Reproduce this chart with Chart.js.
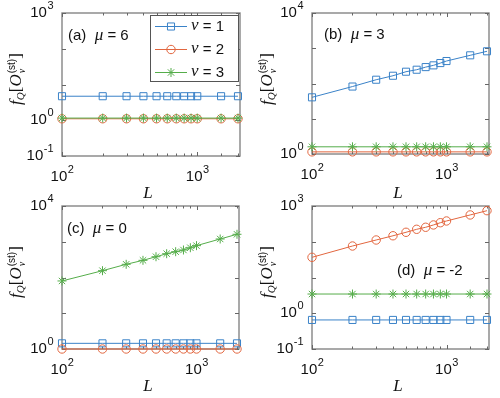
<!DOCTYPE html>
<html>
<head>
<meta charset="utf-8">
<script src="https://cdn.jsdelivr.net/npm/chart.js@4.4.1/dist/chart.umd.min.js"></script>
<style>
  body { margin: 0; background: #fff; }
  #wrap { position: relative; width: 500px; height: 398px; overflow: hidden; font-family: 'Liberation Sans', Arial, sans-serif; color: #111; }
  canvas { position: absolute; }
  .ylab { position: absolute; transform: translate(-50%, -50%) rotate(-90deg); font-family: 'Liberation Serif', serif; font-size: 17px; white-space: nowrap; }
  .ylab sub { font-size: 11px; vertical-align: -3px; }
  .ss { display: inline-flex; flex-direction: column; font-size: 10px; line-height: 10px; vertical-align: 6px; margin-left: 1px; }
  .ss .st { font-family: 'Liberation Sans', Arial, sans-serif; font-style: normal; }
  .xlab { position: absolute; transform: translate(-50%, -50%); font-family: 'Liberation Serif', serif; font-style: italic; font-size: 17px; }
  .plab { position: absolute; transform: translateY(-50%); font-size: 15px; white-space: nowrap; }
  .plab i { font-family: 'Liberation Serif', serif; font-size: 17px; }
</style>
</head>
<body>
<div id="wrap">
  <canvas id="pa" width="250" height="199" style="left:0;top:0"></canvas>
  <canvas id="pb" width="250" height="199" style="left:250px;top:0"></canvas>
  <canvas id="pc" width="250" height="199" style="left:0;top:193px"></canvas>
  <canvas id="pd" width="250" height="199" style="left:250px;top:193px"></canvas>

  <div class="ylab" style="left:16px;top:79px"><i>f</i><sub><i>Q</i></sub>[<i>O</i><span class="ss"><span class="st">(st)</span><i>ν</i></span>]</div>
  <div class="ylab" style="left:267px;top:79px"><i>f</i><sub><i>Q</i></sub>[<i>O</i><span class="ss"><span class="st">(st)</span><i>ν</i></span>]</div>
  <div class="ylab" style="left:16px;top:272px"><i>f</i><sub><i>Q</i></sub>[<i>O</i><span class="ss"><span class="st">(st)</span><i>ν</i></span>]</div>
  <div class="ylab" style="left:267px;top:272px"><i>f</i><sub><i>Q</i></sub>[<i>O</i><span class="ss"><span class="st">(st)</span><i>ν</i></span>]</div>

  <div class="xlab" style="left:148px;top:193px">L</div>
  <div class="xlab" style="left:398px;top:193px">L</div>
  <div class="xlab" style="left:148px;top:386px">L</div>
  <div class="xlab" style="left:398px;top:386px">L</div>

  <div class="plab" style="left:68px;top:35px">(a)&nbsp; <i>μ</i> = 6</div>
  <div class="plab" style="left:324px;top:34px">(b)&nbsp; <i>μ</i> = 3</div>
  <div class="plab" style="left:67px;top:228px">(c)&nbsp; <i>μ</i> = 0</div>
  <div class="plab" style="left:397px;top:270px">(d)&nbsp; <i>μ</i> = -2</div>
</div>
<script>
// system sizes
const L = [100, 200, 300, 400, 500, 600, 700, 800, 900, 1000, 1500, 2000];

// (a) mu = 6
const a_nu1 = [4.7, 4.7, 4.7, 4.7, 4.7, 4.7, 4.7, 4.7, 4.7, 4.7, 4.7, 4.7];
const a_nu2 = [1.1, 1.1, 1.1, 1.1, 1.1, 1.1, 1.1, 1.1, 1.1, 1.1, 1.1, 1.1];
const a_nu3 = [1.15, 1.15, 1.15, 1.15, 1.15, 1.15, 1.15, 1.15, 1.15, 1.15, 1.15, 1.15];
// (b) mu = 3
const b_nu1 = [40.5, 82, 128, 166, 216, 246, 292, 327, 380, 434, 630, 820];
const b_nu2 = [1.15, 1.15, 1.15, 1.15, 1.15, 1.15, 1.15, 1.15, 1.15, 1.15, 1.15, 1.15];
const b_nu3 = [1.6, 1.6, 1.6, 1.6, 1.6, 1.6, 1.6, 1.6, 1.6, 1.6, 1.6, 1.6];
// (c) mu = 0
const c_nu1 = [1.44, 1.44, 1.44, 1.44, 1.44, 1.44, 1.44, 1.44, 1.44, 1.44, 1.44, 1.44];
const c_nu2 = [1, 1, 1, 1, 1, 1, 1, 1, 1, 1, 1, 1];
const c_nu3 = [80, 155, 234, 302, 381, 463, 527, 588, 680, 778, 1194, 1617];
// (d) mu = -2
const d_nu1 = [0.65, 0.65, 0.65, 0.65, 0.65, 0.65, 0.65, 0.65, 0.65, 0.65, 0.65, 0.65];
const d_nu2 = [36.7, 76, 112, 147, 184, 223, 254, 295, 341, 381, 562, 740];
const d_nu3 = [3.45, 3.45, 3.45, 3.45, 3.45, 3.45, 3.45, 3.45, 3.45, 3.45, 3.45, 3.45];

const xTickLabels = [100, 1000];
const legendLabels = ['1', '2', '3'];

const styles = [
  { color: '#3a82c8', pointStyle: 'rect',   radius: 5,   order: 2 },
  { color: '#e2663f', pointStyle: 'circle', radius: 4.2, order: 1 },
  { color: '#55ad4a', pointStyle: 'star',   radius: 4.5, order: 0 }
];

function ds(i, ys) {
  const s = styles[i];
  return {
    label: 'nu' + (i + 1),
    data: L.map((x, k) => ({ x, y: ys[k] })),
    borderColor: s.color, backgroundColor: 'rgba(0,0,0,0)', borderWidth: 1,
    pointStyle: s.pointStyle, pointRadius: s.radius, pointBorderWidth: 1,
    pointBorderColor: s.color, pointBackgroundColor: 'rgba(0,0,0,0)',
    order: s.order, clip: false, tension: 0
  };
}

function drawPow(ctx, x, y, exp, align) {
  ctx.font = '15px "Liberation Sans", Arial, sans-serif';
  const wb = ctx.measureText('10').width;
  ctx.font = '11px "Liberation Sans", Arial, sans-serif';
  const ws = ctx.measureText(String(exp)).width;
  const x0 = align === 'right' ? x - wb - ws : x - (wb + ws) / 2;
  ctx.fillStyle = '#111';
  ctx.textBaseline = 'middle';
  ctx.textAlign = 'left';
  ctx.font = '15px "Liberation Sans", Arial, sans-serif';
  ctx.fillText('10', x0, y);
  ctx.font = '11px "Liberation Sans", Arial, sans-serif';
  ctx.fillText(String(exp), x0 + wb + 0.5, y - 7);
}

const panelPlugin = {
  id: 'panel',
  beforeDatasetsDraw(chart, args, opts) {
    const { ctx, chartArea: { left, right, top, bottom } } = chart;
    const x = chart.scales.x, y = chart.scales.y;
    ctx.save();
    ctx.strokeStyle = '#858585';
    ctx.lineWidth = 1.4;
    ctx.strokeRect(left, top, right - left, bottom - top);

    // inward tick marks, mirrored on all sides
    ctx.strokeStyle = '#666';
    ctx.lineWidth = 1;
    ctx.beginPath();
    L.forEach(v => {
      const px = Math.round(x.getPixelForValue(v)) + 0.5;
      const len = xTickLabels.includes(v) ? 4 : 2.5;
      ctx.moveTo(px, bottom); ctx.lineTo(px, bottom - len);
      ctx.moveTo(px, top); ctx.lineTo(px, top + len);
    });
    const e0 = Math.round(Math.log10(y.min)), e1 = Math.round(Math.log10(y.max));
    for (let e = e0; e <= e1; e++) {
      const py = Math.round(y.getPixelForValue(Math.pow(10, e))) + 0.5;
      ctx.moveTo(left, py); ctx.lineTo(left + 4, py);
      ctx.moveTo(right, py); ctx.lineTo(right - 4, py);
    }
    ctx.stroke();
    ctx.restore();
  },
  afterDraw(chart, args, opts) {
    const { ctx, chartArea: { left, right, top, bottom } } = chart;
    const x = chart.scales.x, y = chart.scales.y;
    ctx.save();
    xTickLabels.forEach(v => drawPow(ctx, x.getPixelForValue(v), bottom + 21, Math.round(Math.log10(v)), 'center'));
    opts.yExps.forEach(e => drawPow(ctx, left - 9, y.getPixelForValue(Math.pow(10, e)), e, 'right'));

    if (opts.legend) {
      const bx = 150, by = 15, bw = 88, bh = 66;
      ctx.fillStyle = '#fff';
      ctx.fillRect(bx, by, bw, bh);
      ctx.strokeStyle = '#555';
      ctx.lineWidth = 1;
      ctx.strokeRect(bx + 0.5, by + 0.5, bw, bh);
      const rows = [26, 49, 72];
      styles.forEach((s, i) => {
        const ry = rows[i];
        ctx.strokeStyle = s.color;
        ctx.lineWidth = 1;
        ctx.beginPath(); ctx.moveTo(155, ry + 0.5); ctx.lineTo(187, ry + 0.5); ctx.stroke();
        ctx.fillStyle = 'rgba(0,0,0,0)';
        if (Chart.helpers && Chart.helpers.drawPoint) {
          Chart.helpers.drawPoint(ctx, { pointStyle: s.pointStyle, radius: s.radius, borderWidth: 1 }, 171, ry + 0.5);
        }
        ctx.fillStyle = '#111';
        ctx.textBaseline = 'middle';
        ctx.textAlign = 'left';
        ctx.font = 'italic 17px "Liberation Serif", serif';
        ctx.fillText('ν', 191, ry);
        const wn = ctx.measureText('ν').width;
        ctx.font = '15px "Liberation Sans", Arial, sans-serif';
        ctx.fillText(' = ' + legendLabels[i], 191 + wn, ry + 1);
      });
    }
    ctx.restore();
  }
};

function makePanel(id, box, yMin, yMax, yExps, rows, legend) {
  return new Chart(document.getElementById(id), {
    type: 'line',
    data: { datasets: rows.map((ys, i) => ds(i, ys)) },
    options: {
      responsive: false, animation: false, devicePixelRatio: 1,
      layout: { padding: { top: box.top, right: box.right, left: 0, bottom: 0 } },
      plugins: { legend: { display: false }, tooltip: { enabled: false }, panel: { yExps, legend } },
      scales: {
        x: {
          type: 'logarithmic', min: 100, max: 2070,
          grid: { display: false }, border: { display: false }, ticks: { display: false },
          afterFit: s => { s.height = 199 - box.bottom; }
        },
        y: {
          type: 'logarithmic', min: yMin, max: yMax,
          grid: { display: false }, border: { display: false }, ticks: { display: false },
          afterFit: s => { s.width = 62; }
        }
      }
    },
    plugins: [panelPlugin]
  });
}

makePanel('pa', { top: 13, right: 10, bottom: 156 }, 0.1, 1000, [-1, 0, 3], [a_nu1, a_nu2, a_nu3], true);
makePanel('pb', { top: 13, right: 11, bottom: 154 }, 1, 10000, [0, 4], [b_nu1, b_nu2, b_nu3], false);
makePanel('pc', { top: 13, right: 11, bottom: 156 }, 1, 10000, [0, 4], [c_nu1, c_nu2, c_nu3], false);
makePanel('pd', { top: 13, right: 11, bottom: 156 }, 0.1, 1000, [-1, 0, 3], [d_nu1, d_nu2, d_nu3], false);
</script>
</body>
</html>
